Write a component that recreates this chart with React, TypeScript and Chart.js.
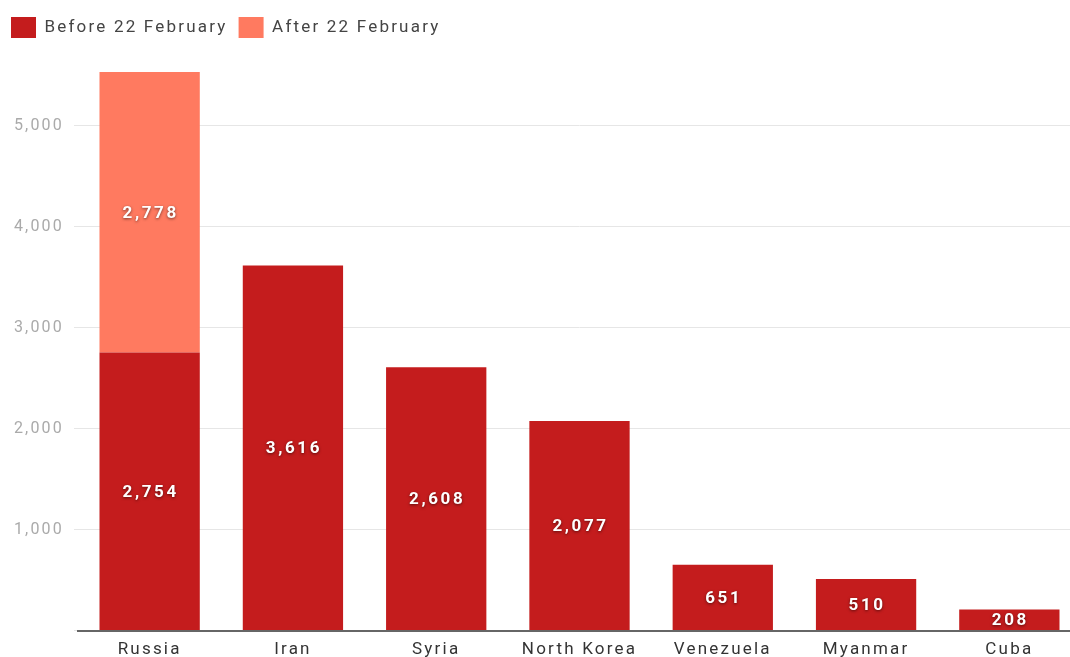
import React, { useEffect, useRef } from "react";
import { Chart, registerables } from "chart.js";

Chart.register(...registerables);

const categories = ["Russia", "Iran", "Syria", "North Korea", "Venezuela", "Myanmar", "Cuba"];
const beforeValues = [2754, 3616, 2608, 2077, 651, 510, 208];
const afterValues = [2778, 0, 0, 0, 0, 0, 0];
const seriesNames = ["Before 22 February", "After 22 February"];
const yTicks = [0, 1000, 2000, 3000, 4000, 5000];

const DARK = "#C41C1D";
const LIGHT = "#FF7A60";
const FONT = "Roboto, 'Noto Sans', sans-serif";
const SPACING = "2.2px";

const spacingPlugin = {
  id: "spacing",
  beforeInit(chart: any) {
    chart.ctx.letterSpacing = SPACING;
  },
  beforeLayout(chart: any) {
    chart.ctx.letterSpacing = SPACING;
  },
  beforeDraw(chart: any) {
    chart.ctx.letterSpacing = SPACING;
  },
};

const labelPlugin = {
  id: "barLabels",
  afterDatasetsDraw(chart: any) {
    const ctx = chart.ctx;
    ctx.save();
    ctx.font = "bold 17px " + FONT;
    ctx.letterSpacing = "2.6px";
    ctx.fillStyle = "#ffffff";
    ctx.textAlign = "center";
    ctx.textBaseline = "middle";
    ctx.shadowColor = "rgba(0,0,0,0.55)";
    ctx.shadowBlur = 3;
    ctx.shadowOffsetX = 0;
    ctx.shadowOffsetY = 1;
    chart.data.datasets.forEach((ds: any, di: number) => {
      const meta = chart.getDatasetMeta(di);
      meta.data.forEach((el: any, i: number) => {
        const v = ds.data[i];
        if (!v) return;
        const cy = (el.y + el.base) / 2;
        ctx.fillText(v.toLocaleString("en-US"), el.x + 1, cy + 1);
      });
    });
    ctx.restore();
  },
};

export default function App() {
  const ref = useRef<HTMLCanvasElement>(null);
  useEffect(() => {
    document.body.style.overflow = "hidden";
    const chart = new Chart(ref.current!, {
      type: "bar",
      data: {
        labels: categories,
        datasets: [
          { label: seriesNames[0], data: beforeValues, backgroundColor: DARK, borderWidth: 0 },
          { label: seriesNames[1], data: afterValues, backgroundColor: LIGHT, borderWidth: 0 },
        ],
      },
      options: {
        animation: false,
        responsive: false,
        maintainAspectRatio: false,
        layout: { padding: { top: 6, left: 0, right: 0, bottom: 0 } },
        datasets: { bar: { categoryPercentage: 1, barPercentage: 0.7 } },
        plugins: {
          tooltip: { enabled: false },
          legend: {
            position: "top",
            align: "start",
            labels: {
              boxWidth: 25,
              boxHeight: 21,
              padding: 11,
              color: "#444444",
              font: { family: FONT, size: 17 },
            },
          },
        },
        scales: {
          x: {
            stacked: true,
            grid: { display: false, drawTicks: false },
            border: { display: true, color: "#666666", width: 2 },
            ticks: {
              color: "#333333",
              font: { family: FONT, size: 17 },
              padding: 9,
              maxRotation: 0,
              autoSkip: false,
            },
          },
          y: {
            stacked: true,
            min: 0,
            max: 5770,
            afterBuildTicks(scale: any) {
              scale.ticks = yTicks.map((v) => ({ value: v }));
            },
            afterFit(scale: any) {
              scale.width = 78;
            },
            grid: { color: "#e6e6e6", lineWidth: 1, tickLength: 4, drawTicks: true, tickColor: "#e6e6e6" },
            border: { display: false },
            ticks: {
              color: "#aaaaaa",
              font: { family: FONT, size: 16 },
              padding: 10,
              callback: (v: any) => (Number(v) === 0 ? "" : Number(v).toLocaleString("en-US")),
            },
          },
        },
      },
      plugins: [spacingPlugin, labelPlugin],
    });
    return () => chart.destroy();
  }, []);
  return (
    <div style={{ position: "fixed", left: 0, top: 0, width: 1081, height: 669, background: "#fff" }}>
      <canvas ref={ref} width={1081} height={669} />
    </div>
  );
}
